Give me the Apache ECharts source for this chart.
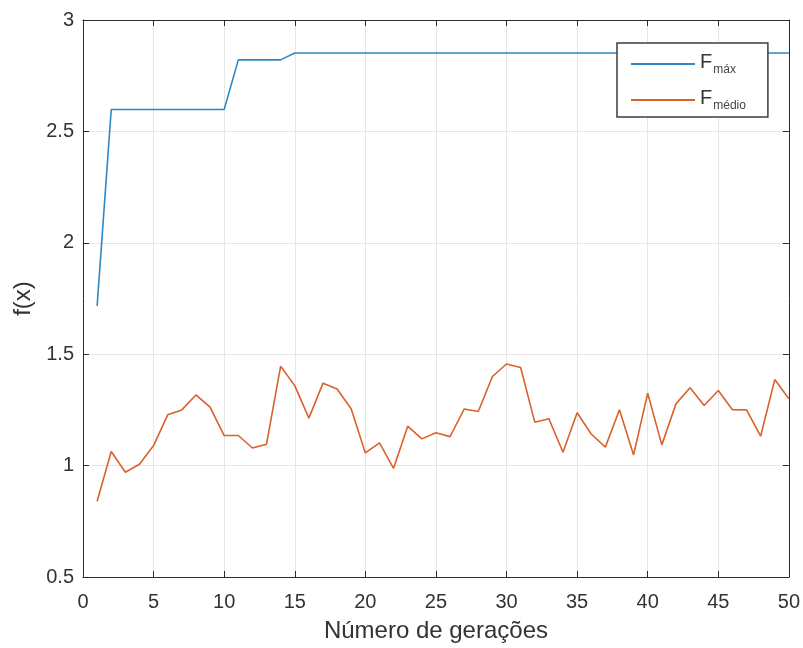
<!DOCTYPE html>
<html>
<head>
<meta charset="utf-8">
<script src="https://cdn.jsdelivr.net/npm/echarts@6/dist/echarts.min.js"></script>
<style>html,body{margin:0;padding:0;background:#fff;}#c{width:803px;height:648px;}</style>
</head>
<body>
<div id="c"></div>
<script>
var generations = [1,2,3,4,5,6,7,8,9,10,11,12,13,14,15,16,17,18,19,20,21,22,23,24,25,26,27,28,29,30,31,32,33,34,35,36,37,38,39,40,41,42,43,44,45,46,47,48,49,50];
var fMax = [1.717,2.598,2.598,2.598,2.598,2.598,2.598,2.598,2.598,2.598,2.821,2.821,2.821,2.821,2.852,2.852,2.852,2.852,2.852,2.852,2.852,2.852,2.852,2.852,2.852,2.852,2.852,2.852,2.852,2.852,2.852,2.852,2.852,2.852,2.852,2.852,2.852,2.852,2.852,2.852,2.852,2.852,2.852,2.852,2.852,2.852,2.852,2.852,2.852,2.852];
var fMedio = [0.84,1.063,0.97,1.006,1.09,1.228,1.25,1.317,1.262,1.135,1.135,1.079,1.096,1.446,1.359,1.213,1.37,1.344,1.254,1.057,1.102,0.988,1.177,1.12,1.147,1.13,1.254,1.243,1.40,1.456,1.44,1.195,1.21,1.06,1.237,1.142,1.083,1.251,1.048,1.325,1.093,1.277,1.349,1.27,1.337,1.251,1.25,1.132,1.386,1.30];
var xTicks = [0,5,10,15,20,25,30,35,40,45,50];
var yTicks = [0.5,1,1.5,2,2.5,3];
var seriesNames = ['Fmax','Fmedio'];
var legendSubs = {Fmax:'máx', Fmedio:'médio'};

function pairs(xs, ys){ return xs.map(function(x,i){ return [x, ys[i]]; }); }

var font = 'Liberation Sans, Arial, Helvetica, sans-serif';
var axisColor = '#2b2b2b';
var textColor = '#333333';
var chart = echarts.init(document.getElementById('c'), null, {renderer:'canvas'});
var commonX = {
  type:'value', min:xTicks[0], max:xTicks[xTicks.length-1], interval:5,
  axisLine:{show:true, onZero:false, lineStyle:{color:axisColor, width:1}},
  axisTick:{show:true, inside:true, length:6, lineStyle:{color:axisColor}},
  splitLine:{show:false}
};
var commonY = {
  type:'value', min:yTicks[0], max:yTicks[yTicks.length-1], interval:0.5,
  axisLine:{show:true, onZero:false, lineStyle:{color:axisColor, width:1}},
  axisTick:{show:true, inside:true, length:6, lineStyle:{color:axisColor}},
  splitLine:{show:false}
};
chart.setOption({
  backgroundColor:'#ffffff',
  animation:false,
  grid:{left:83, right:14, top:20, bottom:70, containLabel:false},
  xAxis:[
    Object.assign({}, commonX, {
      position:'bottom',
      name:'Número de gerações', nameLocation:'middle', nameGap:42,
      nameTextStyle:{fontSize:24, color:textColor, fontFamily:font},
      axisLabel:{fontSize:20, color:textColor, fontFamily:font, margin:15},
      splitLine:{show:true, lineStyle:{color:'#e6e6e6', width:1}}
    }),
    Object.assign({}, commonX, {position:'top', axisLabel:{show:false}})
  ],
  yAxis:[
    Object.assign({}, commonY, {
      position:'left',
      name:'f(x)', nameLocation:'middle', nameGap:48,
      nameTextStyle:{fontSize:24, color:textColor, fontFamily:font},
      axisLabel:{fontSize:20, color:textColor, fontFamily:font, margin:9,
        formatter:function(v){ return String(v); }},
      splitLine:{show:true, lineStyle:{color:'#e6e6e6', width:1}}
    }),
    Object.assign({}, commonY, {position:'right', axisLabel:{show:false}})
  ],
  legend:{
    orient:'vertical', left:617, top:43,
    backgroundColor:'#ffffff', borderColor:'#3c3c3c', borderWidth:1.5, borderRadius:0,
    padding:[7,22,5,14], itemGap:10, itemWidth:64, itemHeight:2, icon:'rect',
    data:seriesNames,
    formatter:function(n){ return '{f|F}{s|' + legendSubs[n] + '}'; },
    textStyle:{color:textColor, fontFamily:font, lineHeight:24,
      rich:{
        f:{fontSize:20, fontFamily:font, color:textColor, lineHeight:24, verticalAlign:'top'},
        s:{fontSize:12, fontFamily:font, color:'#444', lineHeight:24, verticalAlign:'bottom', padding:[14,0,0,1]}
      }
    }
  },
  series:[
    {name:seriesNames[0], type:'line', data:pairs(generations, fMax), showSymbol:false, symbol:'none',
      lineStyle:{color:'#2f86c4', width:1.6}, itemStyle:{color:'#2f86c4'}},
    {name:seriesNames[1], type:'line', data:pairs(generations, fMedio), showSymbol:false, symbol:'none',
      lineStyle:{color:'#d9622b', width:1.6}, itemStyle:{color:'#d9622b'}}
  ]
});
</script>
</body>
</html>
